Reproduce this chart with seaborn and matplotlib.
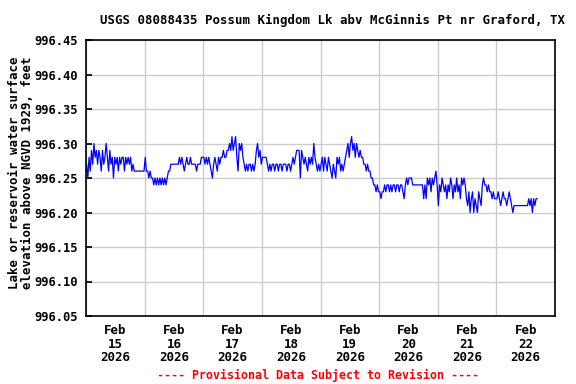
import matplotlib
matplotlib.use('Agg')
import matplotlib.pyplot as plt
import matplotlib.dates as mdates
import pandas as pd
import seaborn as sns

# Lake elevation, hundredths of a foot above 996.00, every 30 minutes
feb15 = [27, 25, 28, 26, 29, 27, 30, 28, 29, 27, 29, 28, 26, 29, 27, 28,
         30, 28, 26, 29, 27, 28, 25, 28, 27, 28, 26, 28, 27, 28, 28, 26,
         28, 27, 28, 27, 28, 26, 27, 26, 26, 26, 26, 26, 26, 26, 26, 26]
feb16 = [28, 26, 26, 25, 26, 25, 25, 24, 25, 24, 25, 24, 25, 24, 25, 24,
         25, 24, 25, 26, 26, 27, 27, 27, 27, 27, 27, 27, 28, 27, 28, 27,
         26, 27, 28, 27, 27, 28, 27, 27, 27, 27, 26, 27, 27, 27, 28, 28]
feb17 = [28, 27, 28, 27, 28, 27, 26, 25, 27, 28, 27, 26, 28, 27, 28, 28,
         29, 28, 28, 29, 29, 30, 29, 31, 29, 30, 31, 28, 26, 30, 29, 30,
         28, 27, 26, 27, 26, 27, 27, 26, 27, 26, 27, 29, 30, 28, 29, 27]
feb18 = [28, 28, 28, 28, 27, 26, 27, 26, 27, 27, 26, 27, 27, 26, 27, 27,
         26, 27, 27, 27, 26, 27, 27, 26, 27, 28, 27, 28, 29, 29, 29, 25,
         29, 28, 27, 28, 27, 26, 28, 27, 28, 27, 30, 28, 27, 26, 27, 26]
feb19 = [27, 28, 26, 28, 27, 26, 28, 27, 26, 25, 27, 26, 25, 28, 27, 28,
         26, 27, 26, 27, 28, 29, 30, 28, 30, 31, 29, 30, 28, 30, 29, 28,
         29, 28, 28, 27, 27, 26, 27, 26, 26, 25, 25, 24, 24, 23, 24, 23]
feb20 = [23, 22, 23, 23, 24, 23, 24, 24, 23, 24, 23, 24, 24, 23, 24, 24,
         23, 24, 24, 23, 22, 24, 25, 24, 25, 25, 25, 24, 24, 24, 24, 24,
         24, 24, 24, 24, 22, 24, 22, 25, 24, 25, 23, 25, 24, 25, 26, 24]
feb21 = [21, 24, 23, 25, 24, 23, 24, 22, 24, 23, 25, 24, 22, 24, 23, 25,
         23, 24, 22, 25, 24, 25, 24, 22, 21, 23, 20, 22, 23, 20, 22, 21,
         20, 23, 22, 21, 24, 25, 24, 24, 23, 24, 23, 23, 22, 23, 22, 22]
feb22 = [22, 23, 22, 21, 22, 23, 22, 22, 21, 22, 23, 22, 21, 20, 21, 21,
         21, 21, 21, 21, 21, 21, 21, 21, 21, 21, 22, 21, 22, 20, 22, 21,
         22, 22]

y_ticks = [996.05, 996.10, 996.15, 996.20, 996.25, 996.30, 996.35, 996.40, 996.45]

cents = feb15 + feb16 + feb17 + feb18 + feb19 + feb20 + feb21 + feb22
df = pd.DataFrame({
    'time': pd.date_range('2026-02-15 00:15', periods=len(cents), freq='30min'),
    'elev': [996 + c / 100 for c in cents],
})

sns.set_theme(style='white')
plt.rcParams['font.family'] = ['DejaVu Sans Mono']
plt.rcParams['font.weight'] = 'bold'
plt.rcParams['text.color'] = 'black'
plt.rcParams['xtick.color'] = 'black'
plt.rcParams['ytick.color'] = 'black'
plt.rcParams['xtick.labelcolor'] = 'black'
plt.rcParams['ytick.labelcolor'] = 'black'

fig = plt.figure(figsize=(5.76, 3.84), dpi=100)
ax = fig.add_axes([86 / 576, 1 - 316 / 384, 469 / 576, 276 / 384])

sns.lineplot(data=df, x='time', y='elev', ax=ax, color='#0000ff', linewidth=0.9)

ax.set_xlim(pd.Timestamp('2026-02-15'), pd.Timestamp('2026-02-23'))
ax.set_ylim(996.05, 996.45)
ax.set_yticks(y_ticks)
ax.set_yticklabels([f'{v:.2f}' for v in y_ticks])

ax.xaxis.set_major_locator(mdates.HourLocator(byhour=12))
ax.xaxis.set_major_formatter(mdates.DateFormatter('%b\n%d\n%Y'))
ax.xaxis.set_minor_locator(mdates.DayLocator())
ax.grid(True, which='minor', axis='x', color='#cccccc', linewidth=1)
ax.grid(True, which='major', axis='y', color='#cccccc', linewidth=1)
ax.grid(False, which='major', axis='x')

ax.tick_params(axis='x', which='major', length=0, pad=6, labelsize=9, labelcolor='black')
ax.tick_params(axis='x', which='minor', direction='in', length=4, color='black')
ax.tick_params(axis='y', direction='in', length=4, pad=6, labelsize=8.7, left=True,
               color='black', labelcolor='black')
for lbl in ax.get_xticklabels() + ax.get_yticklabels():
    lbl.set_fontweight('bold')
for lbl in ax.get_xticklabels():
    lbl.set_linespacing(1.05)

for s in ax.spines.values():
    s.set_color('black')
    s.set_linewidth(1.2)

ax.set_xlabel('')
ax.set_ylabel('')

fig.text(332 / 576, 1 - 20 / 384,
         'USGS 08088435 Possum Kingdom Lk abv McGinnis Pt nr Graford, TX',
         ha='center', va='center', fontsize=8.9, fontweight='bold', color='black')
fig.text(21 / 576, 1 - 173 / 384,
         'Lake or reservoir water surface\nelevation above NGVD 1929, feet',
         ha='center', va='center', rotation=90, fontsize=8.9, fontweight='bold',
         linespacing=1.05, color='black')
fig.text(318 / 576, 1 - 375 / 384,
         '---- Provisional Data Subject to Revision ----',
         ha='center', va='center', fontsize=8.4, fontweight='bold', color='#ff0000')

fig.savefig('out.png', dpi=100)
